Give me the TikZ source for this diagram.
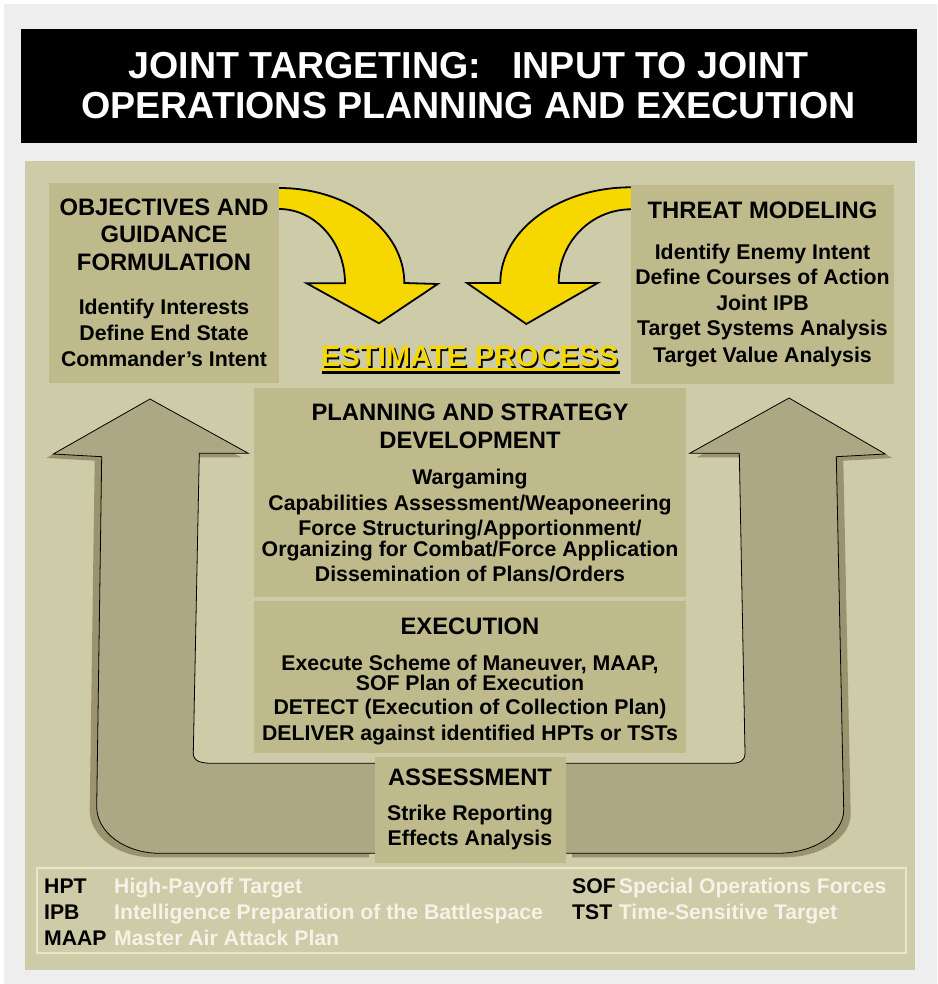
\documentclass[tikz,border=0pt]{standalone}
\usepackage{fontspec}
\setmainfont{Liberation Sans}
\definecolor{outerbg}{RGB}{238,238,238}
\definecolor{panel}{RGB}{205,203,168}
\definecolor{boxc}{RGB}{190,186,140}
\definecolor{arrowc}{RGB}{173,168,132}
\definecolor{shadowc}{RGB}{155,147,110}
\definecolor{yel}{RGB}{247,215,0}
\definecolor{legline}{RGB}{232,230,200}
\definecolor{legtext}{RGB}{244,243,232}
\begin{document}
\begin{tikzpicture}[x=1pt,y=-1pt,
  body/.style={font=\bfseries\fontsize{21.3}{25}\selectfont, anchor=base, inner sep=0pt},
  head/.style={font=\bfseries\fontsize{23.8}{27}\selectfont, anchor=base, inner sep=0pt},
  tbox/.style={fill=boxc, draw=none, inner sep=0pt},
  yarrow/.style={fill=yel, draw=black, line width=1.8pt, line join=miter},
  uarrow/.style={fill=arrowc, draw=black, line width=0.8pt, line join=miter},
  ushadow/.style={fill=shadowc, draw=none},
  legabbr/.style={font=\bfseries\fontsize{21.2}{25}\selectfont, anchor=base west, inner sep=0pt},
  legdef/.style={font=\bfseries\fontsize{21.2}{25}\selectfont, anchor=base west, inner sep=0pt, text=legtext},
  titletext/.style={font=\bfseries\fontsize{37.6}{40}\selectfont, anchor=base, inner sep=0pt, text=white}
]
\useasboundingbox (0,0) rectangle (937,984);
\fill[white] (0,0) rectangle (937,984);
\fill[outerbg] (4,4) rectangle (937,984);
% title
\node[fill=black, minimum width=895.7pt, minimum height=114pt, inner sep=0pt] (titlebox) at (468.85,86) {};
\node[titletext] (title1) at (468.5,79) {JOINT TARGETING:\ \ \ INPUT TO JOINT};
\node[titletext] (title2) at (468.5,119) {OPERATIONS PLANNING AND EXECUTION};
% panel
\node[fill=panel, minimum width=890pt, minimum height=809pt, inner sep=0pt] (panel) at (470,565.5) {};
% U arrows
\def\leftL{(150,399) -- (248.3,453.3) -- (199.3,453.3) -- (193.3,753) .. controls (193.3,761) and (200,763.3) .. (213,763.3) -- (376,763.3) -- (376,853.3) -- (160,853.3) .. controls (125,853.3) and (96.7,832.4) .. (96.7,806.7) -- (101.7,456.7) -- (53.3,454) -- cycle}
\def\rightL{(789,398) -- (885.3,454) -- (836.3,456.7) -- (843.7,810) .. controls (843.7,833.9) and (813.8,853.3) .. (777,853.3) -- (565,853.3) -- (565,763.3) -- (730.3,763.3) .. controls (740,763.3) and (745,761) .. (745,753) -- (739.3,453.3) -- (689.7,453.3) -- cycle}
\fill[ushadow, shift={(-7,4)}] \leftL;
\draw[uarrow] \leftL;
\fill[ushadow, shift={(7,4)}] \rightL;
\draw[uarrow] \rightL;
% yellow arrows
\draw[yarrow] (272,188) -- (279,188) .. controls (348.6,188) and (404.3,230.6) .. (404.3,283) -- (437.7,284) -- (379,323.3) -- (306.7,283.3) -- (345,283.3) .. controls (345,242.3) and (315.4,209) .. (279,209) -- (272,209) -- cycle;
\draw[yarrow] (638,187.3) -- (631,187.3) .. controls (558.9,187.3) and (500.3,230.2) .. (500.3,283) -- (467,283) -- (526.3,324) -- (597.7,283) -- (558.7,283) .. controls (558.7,242.3) and (591.1,209.3) .. (631,209.3) -- (638,209.3) -- cycle;
% boxes
\node[tbox, minimum width=230pt, minimum height=200pt] (obj) at (164,283) {};
\node[tbox, minimum width=263pt, minimum height=199pt] (threat) at (762.5,284.5) {};
\node[tbox, minimum width=432pt, minimum height=209pt] (plan) at (470,492.5) {};
\node[tbox, minimum width=432pt, minimum height=152pt] (exec) at (470,677) {};
\node[tbox, minimum width=191pt, minimum height=106pt] (assess) at (470.5,810) {};
% objectives text
\foreach \y/\t [count=\i] in {215.7/{OBJECTIVES AND},242.7/{GUIDANCE},270/{FORMULATION}}
  \node[head] (objh\i) at (164,\y) {\t};
\foreach \y/\t [count=\i] in {314/{Identify Interests},340/{Define End State},366/{Commander’s Intent}}
  \node[body] (objb\i) at (164,\y) {\t};
% threat text
\node[head] (threath) at (762.5,218.3) {THREAT MODELING};
\foreach \y/\t [count=\i] in {259/{Identify Enemy Intent},284/{Define Courses of Action},310/{Joint IPB},335.7/{Target Systems Analysis},362.3/{Target Value Analysis}}
  \node[body] (threatb\i) at (762.5,\y) {\t};
% estimate process (shadowed, underlined)
\node[font=\bfseries\fontsize{29.3}{31}\selectfont, anchor=base, inner sep=0pt] (est) at (469.5,366.5)
  {\makebox[0pt][l]{\raisebox{-1.6pt}{\hspace{1.6pt}\textcolor{black}{ESTIMATE PROCESS}}}\textcolor{yel}{ESTIMATE PROCESS}};
\draw[black, line width=3pt] ([xshift=1.6pt]est.base west) ++(0,5.5) coordinate (ulb1) -- ([xshift=1.6pt]est.base east |- ulb1) coordinate (ulb2);
\draw[yel, line width=3pt] (est.base west) ++(0,3) coordinate (uly1) -- (est.base east |- uly1) coordinate (uly2);
% planning text
\foreach \y/\t [count=\i] in {420.7/{PLANNING AND STRATEGY},448/{DEVELOPMENT}}
  \node[head] (planh\i) at (470,\y) {\t};
\foreach \y/\t [count=\i] in {484.3/{Wargaming},510/{Capabilities Assessment/Weaponeering},535.7/{Force Structuring/Apportionment/},556.7/{Organizing for Combat/Force Application},581.7/{Dissemination of Plans/Orders}}
  \node[body] (planb\i) at (470,\y) {\t};
% execution text
\node[head] (exech) at (470,634) {EXECUTION};
\foreach \y/\t [count=\i] in {670/{Execute Scheme of Maneuver, MAAP,},690/{SOF Plan of Execution},714/{DETECT (Execution of Collection Plan)},740/{DELIVER against identified HPTs or TSTs}}
  \node[body] (execb\i) at (470,\y) {\t};
% assessment text
\node[head] (assessh) at (470,785.7) {ASSESSMENT};
\node[body] (assessb1) at (470,820) {Strike Reporting};
\node[body] (assessb2) at (470,845.7) {Effects Analysis};
% legend
\node[draw=legline, line width=1.2pt, minimum width=869pt, minimum height=85pt, inner sep=0pt] (legend) at (471.5,910.5) {};
\node[legabbr] (hpt) at (44,893.3) {HPT};
\node[legabbr] (ipb) at (44,919) {IPB};
\node[legabbr] (maap) at (44,945) {MAAP};
\node[legdef] (hptd) at (114,893.3) {High-Payoff Target};
\node[legdef] (ipbd) at (114,919) {Intelligence Preparation of the Battlespace};
\node[legdef] (maapd) at (114,945) {Master Air Attack Plan};
\node[legabbr] (sof) at (572,893.3) {SOF};
\node[legabbr] (tst) at (572,919) {TST};
\node[legdef] (sofd) at (618.7,893.3) {Special Operations Forces};
\node[legdef] (tstd) at (618.7,919) {Time-Sensitive Target};
\end{tikzpicture}
\end{document}
